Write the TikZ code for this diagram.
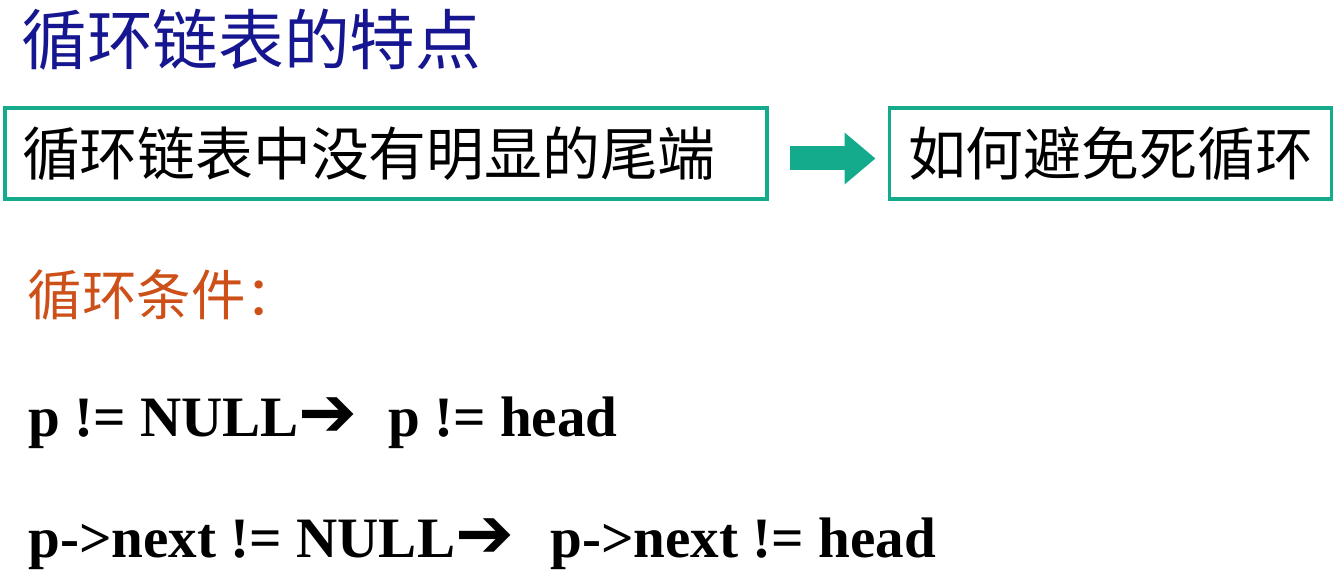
\documentclass[tikz,border=0pt]{standalone}
\usepackage{fontspec}
\setmainfont{Liberation Serif}
\newfontfamily\cjk{Noto Sans CJK SC}
\newfontfamily\dingfont{DejaVu Sans}
\usetikzlibrary{arrows.meta}
\definecolor{titleblue}{RGB}{22,22,145}
\definecolor{boxteal}{RGB}{20,170,140}
\definecolor{condorange}{RGB}{205,80,25}
\tikzset{
  cjktext/.style={inner sep=0pt, font=\cjk\fontsize{32.9}{38}\selectfont},
  tealbox/.style={cjktext, draw=boxteal, line width=2.2pt, minimum height=1.82cm, outer sep=0pt},
  codetext/.style={inner sep=0pt, anchor=base west, font=\bfseries\fontsize{32.5}{38}\selectfont}
}
\newcommand{\thenarrow}{{\dingfont\fontsize{40}{38}\selectfont ➔}}

\begin{document}
\begin{tikzpicture}
  \useasboundingbox (0,0) rectangle (26.82,11.66);
  \node[cjktext, anchor=west, text=titleblue, font=\cjk\fontsize{37.4}{42}\selectfont] (title) at (0.42,10.86) {循环链表的特点};
  \node[tealbox, minimum width=15.24cm, text width=14.56cm, align=left] (notail) at (7.72,8.59) {循环链表中没有明显的尾端};
  \node[tealbox, minimum width=8.84cm] (noloop) at (22.21,8.59) {如何避免死循环};
  \draw [boxteal, line width=0.48cm, -{Triangle[length=0.62cm,width=1.0cm]}, shorten <=0.46cm, shorten >=0.28cm] ([yshift=-0.1cm]notail.east) -- ([yshift=-0.1cm]noloop.west);
  \node[cjktext, anchor=west, text=condorange, font=\cjk\fontsize{31}{36}\selectfont] (cond) at (0.55,5.76) {循环条件：};
  \node[codetext] (pnull) at (0.56,2.92) {p != NULL\thenarrow};
  \node[codetext] (phead) at (7.76,2.92) {p != head};
  \node[codetext] (nextnull) at (0.56,0.52) {p->next != NULL\thenarrow};
  \node[codetext] (nexthead) at (11.0,0.52) {p->next != head};
\end{tikzpicture}
\end{document}
